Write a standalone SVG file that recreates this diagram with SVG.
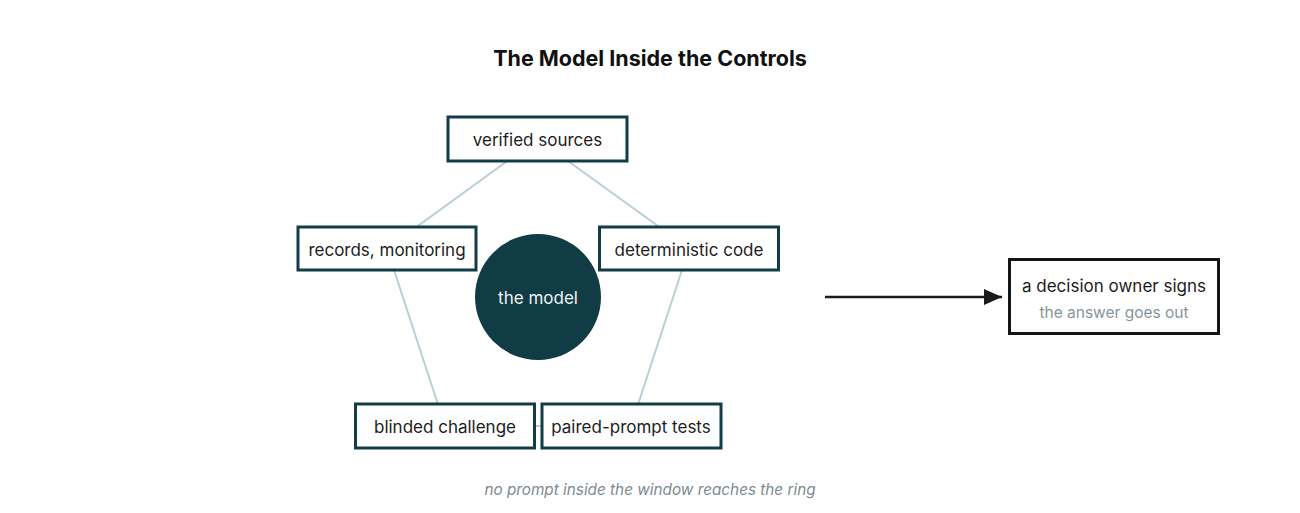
<svg xmlns="http://www.w3.org/2000/svg" width="1300" height="513" viewBox="0 0 1300 513">
<defs>
<style>
.box{fill:#ffffff;stroke:#123c46;stroke-width:3}
.lbl{font-family:Inter,"Liberation Sans",Arial,sans-serif;font-size:17px;fill:#1c1c1c;text-anchor:middle}
.ring{stroke:#bccfd4;stroke-width:2;fill:none}
</style>
<marker id="ah" markerWidth="18" markerHeight="16" refX="18" refY="8" orient="auto" markerUnits="userSpaceOnUse" viewBox="0 0 18 16">
<path d="M0,0 L18,8 L0,16 z" fill="#1a1a1a"/>
</marker>
</defs>
<rect width="1300" height="513" fill="#ffffff"/>
<text x="650" y="66" font-family="Inter,'Liberation Sans',Arial,sans-serif" font-size="21.5" font-weight="bold" fill="#111" text-anchor="middle">The Model Inside the Controls</text>
<g id="connectors">
<polygon class="ring" points="537.5,139 689,248.5 631,426 445,426 387,248.5"/>
<line x1="825" y1="297" x2="1002" y2="297" stroke="#1a1a1a" stroke-width="2.5" marker-end="url(#ah)"/>
</g>
<g id="model">
<circle cx="538" cy="297" r="63" fill="#113b45"/>
<text class="lbl" x="538" y="304" style="fill:#eef3f4">the model</text>
</g>
<g id="verified-sources">
<rect class="box" x="448" y="117" width="179" height="44"/>
<text class="lbl" x="537.5" y="146">verified sources</text>
</g>
<g id="records-monitoring">
<rect class="box" x="298" y="227" width="178" height="43"/>
<text class="lbl" x="387" y="255.5">records, monitoring</text>
</g>
<g id="deterministic-code">
<rect class="box" x="599.5" y="227" width="179" height="43"/>
<text class="lbl" x="689" y="255.5">deterministic code</text>
</g>
<g id="blinded-challenge">
<rect class="box" x="355.5" y="404" width="179" height="44"/>
<text class="lbl" x="445" y="433">blinded challenge</text>
</g>
<g id="paired-prompt-tests">
<rect class="box" x="542" y="404" width="179" height="44"/>
<text class="lbl" x="631" y="433">paired-prompt tests</text>
</g>
<g id="decision-owner">
<rect class="box" x="1009.5" y="259.5" width="209" height="74" style="stroke:#151515"/>
<text class="lbl" x="1114" y="292">a decision owner signs</text>
<text x="1114" y="318" font-family="Inter,'Liberation Sans',Arial,sans-serif" font-size="15.5" fill="#86959a" text-anchor="middle">the answer goes out</text>
</g>
<text x="650" y="495" font-family="Inter,'Liberation Sans',Arial,sans-serif" font-size="15.3" font-style="italic" fill="#7d8b90" text-anchor="middle">no prompt inside the window reaches the ring</text>
</svg>
